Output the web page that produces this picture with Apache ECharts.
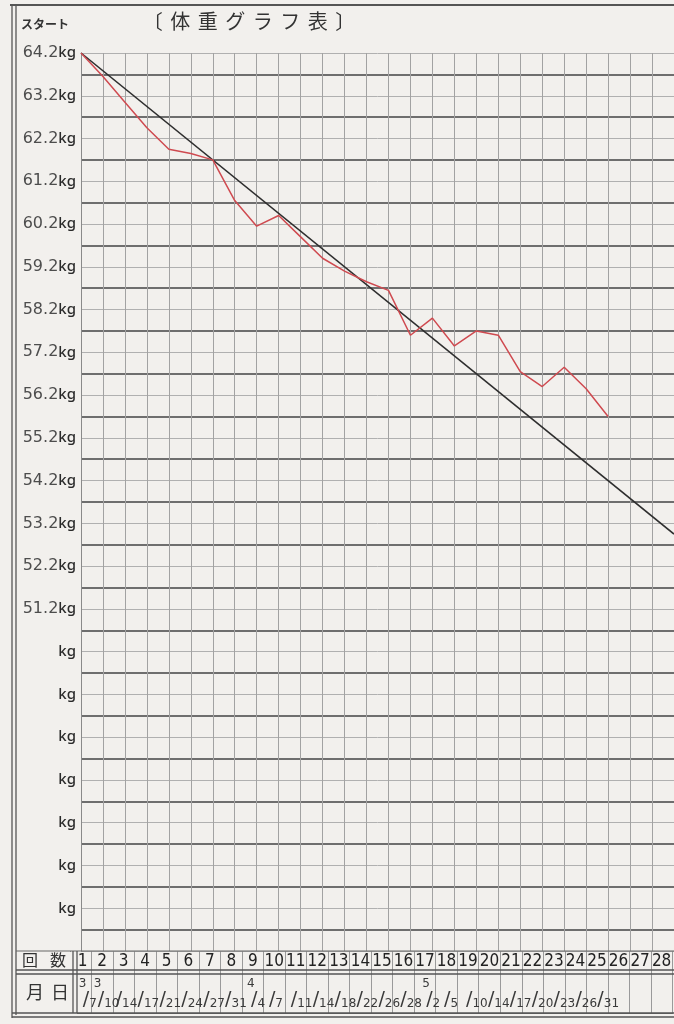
<!DOCTYPE html>
<html>
<head>
<meta charset="utf-8">
<title>体重グラフ表</title>
<script src="https://cdn.jsdelivr.net/npm/echarts@6/dist/echarts.min.js"></script>
<style>
  html, body { margin: 0; padding: 0; background: #f2f0ed; overflow: hidden; }
  #chart { width: 674px; height: 1024px; }
</style>
</head>
<body>
<div id="chart"></div>
<script>
// 回数 (1..28) と 月日
const counts = ["1", "2", "3", "4", "5", "6", "7", "8", "9", "10", "11", "12", "13", "14",
  "15", "16", "17", "18", "19", "20", "21", "22", "23", "24", "25", "26", "27", "28"];
const dates = ["3/7", "3/10", "/14", "/17", "/21", "/24", "/27", "/31", "4/4", "/7", "/11",
  "/14", "/18", "/22", "/26", "/28", "5/2", "/5", "/10", "/14", "/17", "/20", "/23", "/26", "/31"];

// 体重 (kg)
const weights = [64.2, 63.65, 63.05, 62.45, 61.95, 61.85, 61.7, 60.75, 60.15, 60.4, 59.9,
  59.4, 59.1, 58.85, 58.65, 57.6, 58.0, 57.35, 57.7, 57.6, 56.75, 56.4, 56.85, 56.35, 55.7];

// 目標ライン (始点と終点)
const targetLine = [["1", 64.2], ["28", 52.95]];

// 目盛ラベル
const kgTicks = ["64.2", "63.2", "62.2", "61.2", "60.2", "59.2", "58.2", "57.2",
  "56.2", "55.2", "54.2", "53.2", "52.2", "51.2"];

const titleChars = ["〔", "体", "重", "グ", "ラ", "フ", "表", "〕"];

const paper = "#f2f0ed";
const ink = "#3a3a3a";

const chart = echarts.init(document.getElementById("chart"));

const option = {
  backgroundColor: paper,
  animation: false,
  title: {
    text: titleChars.map((c) => "{c|" + c + "}").join(""),
    left: 134,
    top: 6,
    textStyle: {
      rich: {
        c: {
          fontFamily: "Noto Sans CJK JP",
          fontSize: 20,
          fontWeight: "normal",
          color: "#333",
          width: 27.5,
          align: "center",
        },
      },
    },
  },
  grid: [
    { left: 81, top: 53, width: 600, height: 898 },
    { left: 69.9, top: 951, width: 622.2, height: 62 },
    { left: 60.9, top: 951, width: 622.2, height: 62 },
  ],
  xAxis: [
    {
      gridIndex: 0,
      type: "category",
      data: counts,
      boundaryGap: false,
      axisLine: { show: false },
      axisTick: { show: false },
      axisLabel: { show: false },
      splitLine: {
        show: true,
        interval: 0,
        lineStyle: { color: "#a2a2a2", width: 1 },
      },
    },
    {
      gridIndex: 1,
      type: "category",
      data: counts,
      position: "top",
      boundaryGap: true,
      axisLine: { show: true, lineStyle: { color: "#6a6a6a", width: 1.2 } },
      axisTick: { show: false },
      splitLine: {
        show: true,
        interval: 0,
        lineStyle: { color: "#9a9a9a", width: 1 },
      },
      axisLabel: {
        inside: true,
        interval: 0,
        margin: 2,
        formatter: (val, idx) => (idx === 0 ? "{s|}" + val : val),
        rich: { s: { width: 4 } },
        fontFamily: "Liberation Sans Narrow, DejaVu Sans Condensed, Liberation Sans",
        fontSize: 17,
        color: "#222",
      },
    },
    {
      gridIndex: 2,
      type: "category",
      data: counts,
      position: "bottom",
      boundaryGap: true,
      axisLine: { show: false },
      axisTick: { show: false },
      splitLine: { show: false },
      axisLabel: {
        inside: true,
        interval: 0,
        margin: 3,
        align: "left",
        formatter: (val, idx) => {
          const d = dates[idx];
          if (!d) return "";
          const p = d.split("/");
          return (idx === 0 ? "{s|}" : "") + (p[0] ? "{m|" + p[0] + "}" : "") +
            "{sl|/}{d|" + p[1] + "}";
        },
        rich: {
          s: { width: 7 },
          m: {
            fontFamily: "DejaVu Sans",
            fontSize: 12,
            color: ink,
            width: 4,
            lineHeight: 32,
            verticalAlign: "top",
          },
          sl: {
            fontFamily: "DejaVu Sans",
            fontSize: 19,
            color: ink,
            lineHeight: 32,
            verticalAlign: "bottom",
          },
          d: {
            fontFamily: "DejaVu Sans",
            fontSize: 12,
            color: ink,
            lineHeight: 28,
            verticalAlign: "bottom",
          },
        },
      },
    },
  ],
  yAxis: [
    {
      gridIndex: 0,
      type: "value",
      min: 43.2,
      max: 64.2,
      interval: 1,
      axisLine: { show: true, lineStyle: { color: "#8a8a8a", width: 1 } },
      axisTick: { show: false },
      axisLabel: {
        margin: 5,
        formatter: (v) => {
          const s = (Math.round(v * 10) / 10).toFixed(1);
          if (kgTicks.indexOf(s) >= 0) return "{n|" + s + "}{k|kg}";
          if (v < 44) return "";
          return "{k|kg}";
        },
        rich: {
          n: {
            fontFamily: "DejaVu Sans",
            fontSize: 16,
            color: "#4d4d4d",
          },
          k: {
            fontFamily: "Noto Sans",
            fontSize: 15,
            fontWeight: 500,
            color: "#2a2a2a",
          },
        },
      },
      splitLine: {
        show: true,
        lineStyle: { color: "#b0b0b0", width: 1 },
      },
      minorTick: { show: false, splitNumber: 2 },
      minorSplitLine: {
        show: true,
        lineStyle: { color: "#6e6e6e", width: 1.8 },
      },
    },
    { gridIndex: 1, type: "value", min: 0, max: 1, show: false },
    { gridIndex: 2, type: "value", min: 0, max: 1, show: false },
  ],
  series: [
    {
      name: "目標",
      type: "line",
      xAxisIndex: 0,
      yAxisIndex: 0,
      data: targetLine,
      showSymbol: false,
      symbol: "none",
      lineStyle: { color: "#2e2e2e", width: 1.6 },
      z: 3,
    },
    {
      name: "体重",
      type: "line",
      xAxisIndex: 0,
      yAxisIndex: 0,
      data: weights,
      showSymbol: false,
      symbol: "none",
      lineStyle: { color: "#cf4a50", width: 1.5 },
      z: 4,
    },
  ],
  graphic: [
    // 用紙の枠
    { type: "line", shape: { x1: 10, y1: 5, x2: 674, y2: 5 }, style: { stroke: "#555", lineWidth: 2 }, z: 10 },
    { type: "line", shape: { x1: 12, y1: 5, x2: 12, y2: 1018 }, style: { stroke: "#555", lineWidth: 1.3 }, z: 10 },
    { type: "line", shape: { x1: 16, y1: 5, x2: 16, y2: 1015 }, style: { stroke: "#555", lineWidth: 1.3 }, z: 10 },
    { type: "text", left: 21, top: 18, style: { text: "スタート", font: "bold 12px 'Noto Sans CJK JP'", fill: "#333" }, z: 10 },
    // 回数・月日の欄
    { type: "rect", shape: { x: 17, y: 952, width: 60, height: 62 }, style: { fill: paper }, z: 9 },
    { type: "line", shape: { x1: 16, y1: 951, x2: 674, y2: 951 }, style: { stroke: "#666", lineWidth: 1.2 }, z: 10 },
    { type: "line", shape: { x1: 16, y1: 970, x2: 674, y2: 970 }, style: { stroke: "#555", lineWidth: 1.3 }, z: 10 },
    { type: "line", shape: { x1: 16, y1: 974, x2: 674, y2: 974 }, style: { stroke: "#555", lineWidth: 1.3 }, z: 10 },
    { type: "line", shape: { x1: 12, y1: 1013, x2: 674, y2: 1013 }, style: { stroke: "#555", lineWidth: 1.3 }, z: 10 },
    { type: "line", shape: { x1: 12, y1: 1017, x2: 674, y2: 1017 }, style: { stroke: "#555", lineWidth: 1.3 }, z: 10 },
    { type: "line", shape: { x1: 73, y1: 951, x2: 73, y2: 1013 }, style: { stroke: "#555", lineWidth: 1.3 }, z: 10 },
    { type: "line", shape: { x1: 77, y1: 951, x2: 77, y2: 1013 }, style: { stroke: "#555", lineWidth: 1.3 }, z: 10 },
    { type: "text", left: 22, top: 952, style: { text: "回", font: "16px 'Noto Sans CJK JP'", fill: "#333" }, z: 10 },
    { type: "text", left: 50, top: 952, style: { text: "数", font: "16px 'Noto Sans CJK JP'", fill: "#333" }, z: 10 },
    { type: "text", left: 26, top: 983, style: { text: "月", font: "18px 'Noto Sans CJK JP'", fill: "#333" }, z: 10 },
    { type: "text", left: 51, top: 983, style: { text: "日", font: "18px 'Noto Sans CJK JP'", fill: "#333" }, z: 10 },
  ],
};

chart.setOption(option);
window.onresize = function () {
  chart.resize();
};
</script>
</body>
</html>
